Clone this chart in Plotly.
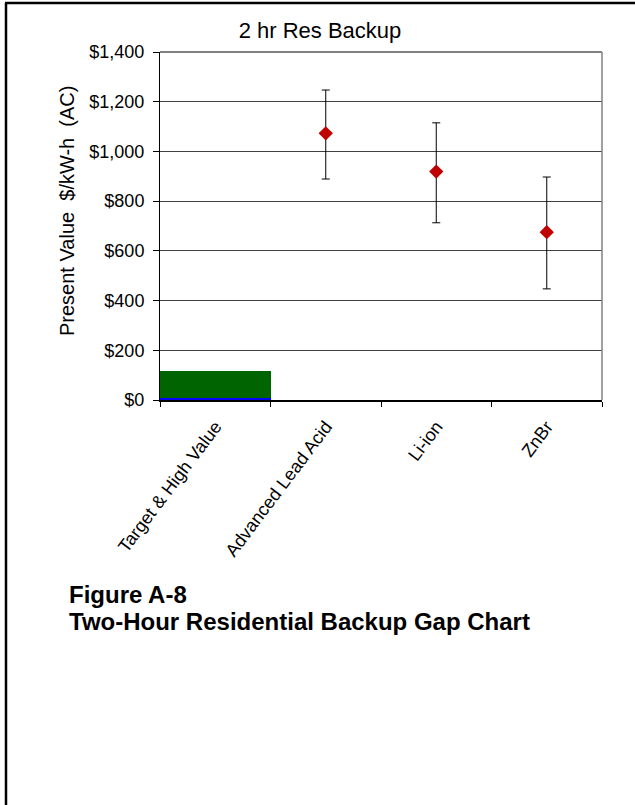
import plotly.graph_objects as go

categories = ["Target & High Value", "Advanced Lead Acid", "Li-ion", "ZnBr"]
target_vals = [8, None, None, None]
high_vals = [107, None, None, None]
pv_cats = ["Advanced Lead Acid", "Li-ion", "ZnBr"]
pv_mid = [1073, 919, 675]
pv_high = [1247, 1115, 897]
pv_low = [889, 713, 447]
y_ticks = [0, 200, 400, 600, 800, 1000, 1200, 1400]
y_tick_labels = ["$0", "$200", "$400", "$600", "$800", "$1,000", "$1,200", "$1,400"]

err_plus = [h - m for h, m in zip(pv_high, pv_mid)]
err_minus = [m - l for m, l in zip(pv_mid, pv_low)]

fig = go.Figure()
fig.add_trace(go.Bar(x=categories, y=target_vals, marker=dict(color="#0000FF", line=dict(width=0)),
                     width=1, showlegend=False))
fig.add_trace(go.Bar(x=categories, y=high_vals, marker=dict(color="#006400", line=dict(width=0)),
                     width=1, showlegend=False))
fig.add_trace(go.Scatter(x=pv_cats, y=pv_mid, mode="markers",
                         marker=dict(symbol="diamond", size=11, color="#C00000"),
                         error_y=dict(type="data", symmetric=False, array=err_plus, arrayminus=err_minus,
                                      color="#000000", thickness=1, width=4),
                         showlegend=False))

L, R, T, B = 160, 33, 52, 405
W, H = 635, 805
pw, ph = W - L - R, H - T - B
def px(x):
    return (x - L) / pw
def py(y):
    return (H - B - y) / ph

fig.update_layout(
    width=W, height=H,
    margin=dict(l=L, r=R, t=T, b=B, pad=0),
    paper_bgcolor="white", plot_bgcolor="white",
    barmode="stack", bargap=0,
    font=dict(family="Liberation Sans, Arial, sans-serif", color="#000000"),
    title=dict(text="2 hr Res Backup", x=320 / W, xanchor="center", y=1 - 30 / H, yanchor="middle",
               font=dict(size=22)),
    xaxis=dict(type="category", categoryorder="array", categoryarray=categories,
               range=[-0.5, 3.5], tickson="boundaries", ticks="outside", ticklen=5, tickcolor="#000000",
               showline=True, linecolor="#000000", linewidth=2, showgrid=False,
               tickangle=-53, tickfont=dict(size=18), ticklabelstandoff=7),
    yaxis=dict(range=[0, 1400], tickvals=y_ticks, ticktext=y_tick_labels,
               ticks="outside", ticklen=6, tickcolor="#000000",
               showline=True, linecolor="#000000", linewidth=1,
               showgrid=True, gridcolor="#404040", gridwidth=1, zeroline=False,
               tickfont=dict(size=18), ticklabelstandoff=5),
    shapes=[
        dict(type="line", xref="paper", yref="paper", x0=0, x1=1, y0=1, y1=1,
             line=dict(color="#000000", width=1)),
        dict(type="line", xref="paper", yref="paper", x0=1, x1=1, y0=0, y1=1,
             line=dict(color="#808080", width=1.5)),
        dict(type="line", xref="paper", yref="paper", x0=px(6), x1=px(6), y0=py(3), y1=py(810),
             line=dict(color="#000000", width=2.5)),
        dict(type="line", xref="paper", yref="paper", x0=px(5), x1=px(640), y0=py(3), y1=py(3),
             line=dict(color="#000000", width=2.5)),
    ],
    annotations=[
        dict(text="Present Value  $/kW-h  (AC)", xref="paper", yref="paper", x=px(67), y=py(211),
             xanchor="center", yanchor="middle", textangle=-90, showarrow=False, font=dict(size=20)),
        dict(text="<b>Figure A-8</b>", xref="paper", yref="paper", x=px(67), y=py(594),
             xanchor="left", yanchor="middle", showarrow=False, font=dict(size=24)),
        dict(text="<b>Two-Hour Residential Backup Gap Chart</b>", xref="paper", yref="paper",
             x=px(67), y=py(621), xanchor="left", yanchor="middle", showarrow=False, font=dict(size=24)),
    ],
)

fig.write_html("out.html", config={"displayModeBar": False},
               post_script="document.body.style.margin='0';document.body.style.overflow='hidden';")
